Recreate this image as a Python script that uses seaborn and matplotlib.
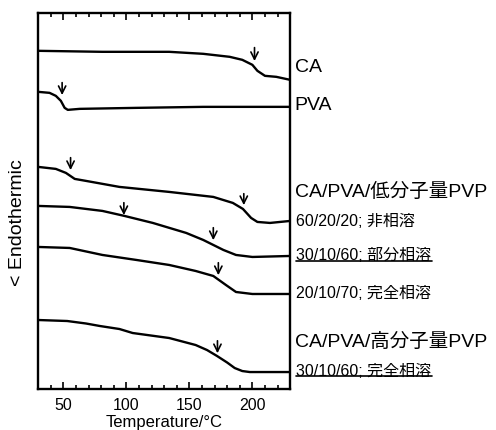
import numpy as np
import pandas as pd
import seaborn as sns
import matplotlib.pyplot as plt

# DSC curves (temperature in degC, heat flow in arbitrary units, up = exo)
ca_t = [30, 81, 134, 161, 182, 192, 200, 204, 210, 219, 230]
ca_y = [352, 351, 351, 349, 346, 343, 338, 332, 327, 326, 323]

pva_t = [30, 39, 44, 48, 51, 53.5, 63, 108, 161, 230]
pva_y = [311, 310, 307, 302, 295, 293, 294, 295, 296, 296]

low1_t = [30, 44, 52, 59, 68, 94.5, 134, 169, 184.5, 192.5, 199, 204, 214, 230]
low1_y = [236, 234, 230, 224, 222, 216, 211, 206, 200, 194, 185, 181, 180, 182]

low2_t = [30, 55, 81, 98.5, 121, 147.5, 161, 169, 177, 187, 200, 230]
low2_y = [197, 196, 192, 187, 180, 170, 163, 158, 153, 148, 146, 147]

low3_t = [30, 55, 81, 108, 134, 155, 169, 179, 187, 200, 230]
low3_y = [156, 155, 148, 143, 138, 132, 127, 118, 111, 109, 109]

high_t = [30, 53, 68, 79, 94.5, 105, 134, 155, 164, 172, 180, 186, 192, 198, 230]
high_y = [83, 82, 79.5, 77, 74, 70, 65, 58, 53, 47, 40.5, 35, 32, 31, 31]

# arrows marking Tg: (temperature, top, bottom)
arrow_t = [201.7, 49, 55.7, 193.2, 98, 169, 173, 172.3]
arrow_top = [358, 323, 248, 212, 203, 178, 143, 65]
arrow_bot = [339, 305, 230, 195, 185, 160, 125, 47]

labels = ["CA", "PVA", "CA/PVA/低分子量PVP", "60/20/20; 非相溶",
          "30/10/60; 部分相溶", "20/10/70; 完全相溶",
          "CA/PVA/高分子量PVP", "30/10/60; 完全相溶"]
label_y = [336, 298, 212, 182, 148, 110, 62, 33]
label_big = [True, True, True, False, False, False, True, False]
label_under = [False, False, False, False, True, False, False, True]

curves = [(ca_t, ca_y), (pva_t, pva_y), (low1_t, low1_y), (low2_t, low2_y),
          (low3_t, low3_y), (high_t, high_y)]
df = pd.concat([pd.DataFrame({"T": t, "H": y, "s": i}) for i, (t, y) in enumerate(curves)])

sns.set_style("ticks")
plt.rcParams["font.family"] = ["Liberation Sans", "Noto Sans CJK JP"]
plt.rcParams["axes.edgecolor"] = "black"
plt.rcParams["text.color"] = "black"
plt.rcParams["axes.labelcolor"] = "black"
plt.rcParams["xtick.color"] = "black"

fig = plt.figure(figsize=(4.96, 4.31), dpi=100)
ax = fig.add_axes([0.077, 0.095, 0.508, 0.873])

sns.lineplot(data=df, x="T", y="H", units="s", estimator=None, color="black",
             lw=1.7, sort=False, ax=ax)
for l in ax.lines:
    l.set_solid_joinstyle("round")

for t, a, b in zip(arrow_t, arrow_top, arrow_bot):
    ax.annotate("", xy=(t, b), xytext=(t, a),
                arrowprops=dict(arrowstyle="->", color="black", lw=1.2,
                                mutation_scale=13))

handles = []
for txt, y, big in zip(labels, label_y, label_big):
    h = ax.text(233.5 if big else 235, y, txt, fontsize=14 if big else 11.5,
                va="center", ha="left", clip_on=False)
    handles.append(h)

ax.set_xlim(30, 230)
ax.set_ylim(14, 390)
ax.set_xticks([50, 100, 150, 200])
ax.set_xticks(np.arange(40, 230, 10), minor=True)
ax.set_yticks([])
ax.tick_params(axis="x", which="both", direction="in", top=True, bottom=True,
               labelsize=11.5, width=1.2, pad=6)
ax.tick_params(axis="x", which="major", length=5)
ax.tick_params(axis="x", which="minor", length=3)
for sp in ax.spines.values():
    sp.set_linewidth(1.7)
    sp.set_visible(True)
ax.set_xlabel("Temperature/°C", fontsize=12, labelpad=1)
ax.set_ylabel("< Endothermic", fontsize=14)
ax.yaxis.set_label_coords(-0.05, 0.445)

# underline two of the labels
fig.canvas.draw()
r = fig.canvas.get_renderer()
inv = ax.transData.inverted()
for h, und in zip(handles, label_under):
    if und:
        bb = h.get_window_extent(r)
        (x0, y0), (x1, _) = inv.transform([(bb.x0, bb.y0 + 1.5), (bb.x1, bb.y0 + 1.5)])
        ax.plot([x0, x1], [y0, y0], color="black", lw=1.2, clip_on=False)

fig.savefig("out.png", dpi=100)
